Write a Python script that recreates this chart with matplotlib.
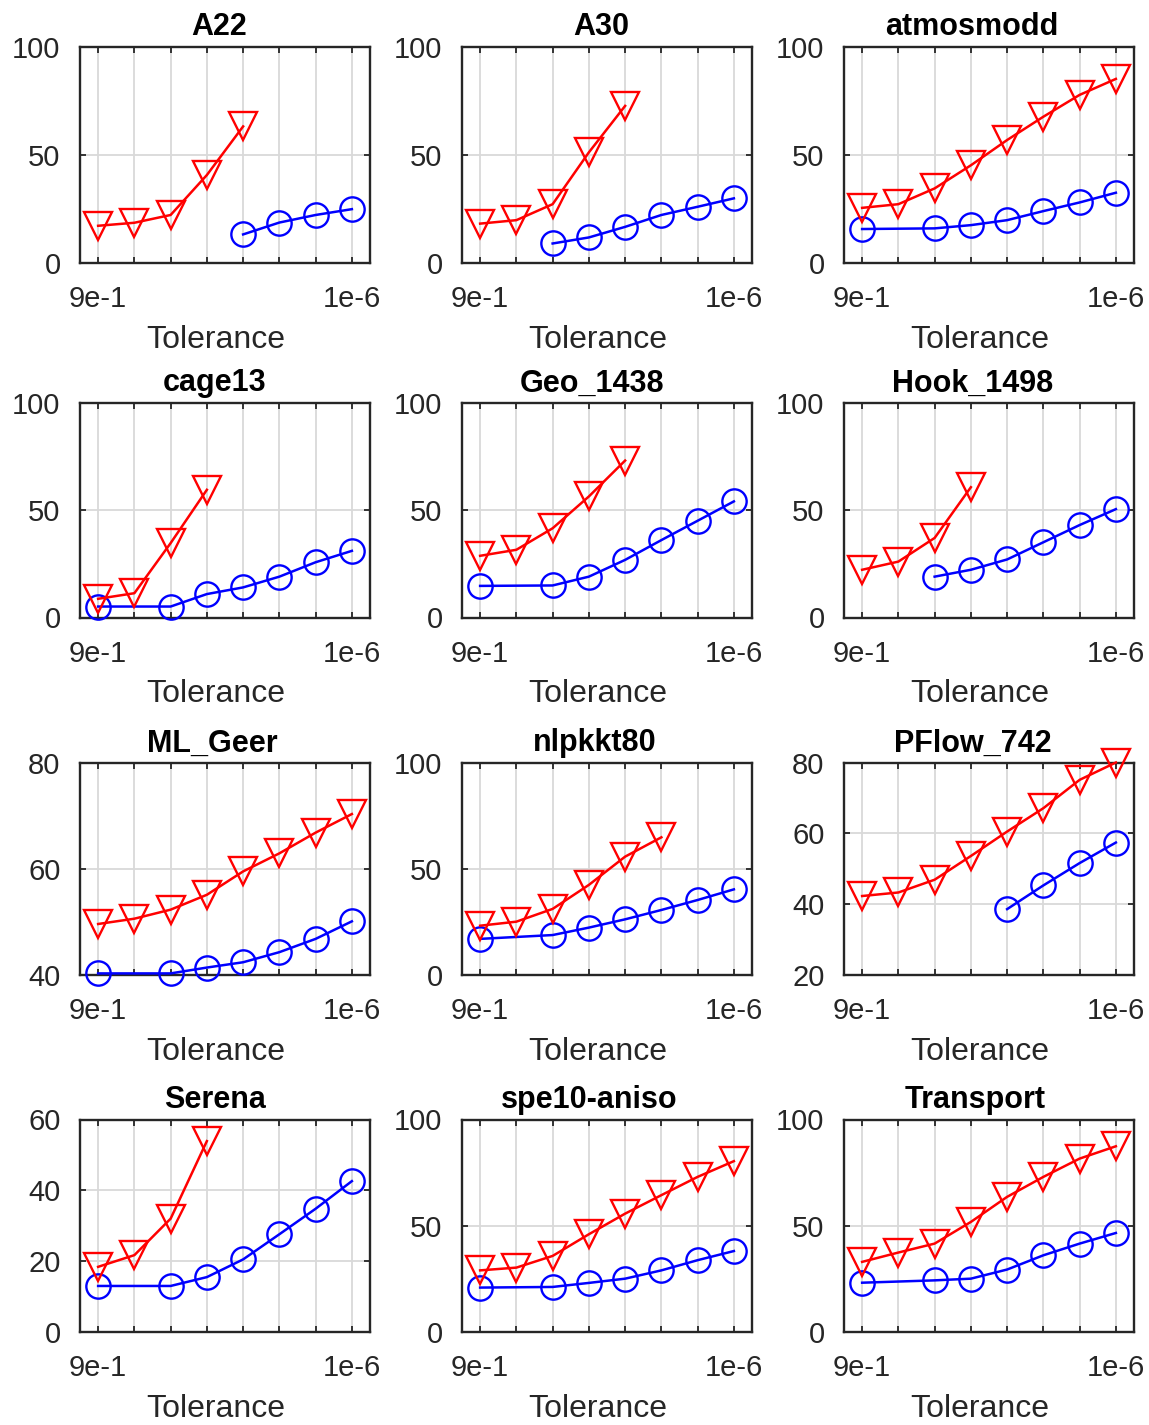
import numpy as np
import matplotlib
matplotlib.use("Agg")
import matplotlib.pyplot as plt
from matplotlib.transforms import ScaledTranslation

plt.rcParams["font.family"] = ["Liberation Sans", "DejaVu Sans"]

titles = ["A22", "A30", "atmosmodd", "cage13", "Geo_1438", "Hook_1498",
          "ML_Geer", "nlpkkt80", "PFlow_742", "Serena", "spe10-aniso", "Transport"]
tol_labels = ["9e-1", "", "", "", "", "", "", "1e-6"]

ylims = [(0, 100), (0, 100), (0, 100), (0, 100), (0, 100), (0, 100),
         (40, 80), (0, 100), (20, 80), (0, 60), (0, 100), (0, 100)]
yticks = [[0, 50, 100]] * 6 + [[40, 60, 80], [0, 50, 100], [20, 40, 60, 80],
                               [0, 20, 40, 60], [0, 50, 100], [0, 50, 100]]

nan = np.nan
# red triangles (one value per tolerance, nan = not reached)
a22_red = [17, 18.4, 22, 40.5, 63, nan, nan, nan]
a30_red = [18, 19.6, 27, 51, 72.5, nan, nan, nan]
atmosmodd_red = [25.3, 27, 34.3, 45, 56.7, 67.5, 77.6, 85]
cage13_red = [8.7, 11.3, 34.6, 59.4, nan, nan, nan, nan]
geo_red = [28.7, 31.5, 41.5, 56.3, 73, nan, nan, nan]
hook_red = [22.2, 26, 37, 60.6, nan, nan, nan, nan]
mlgeer_red = [49.6, 50.6, 52.3, 55.1, 59.5, 62.9, 66.8, 70.3]
nlpkkt_red = [23.2, 25.1, 31.1, 42.4, 55.7, 64.8, nan, nan]
pflow_red = [42.3, 43.3, 46.9, 53.6, 60.5, 67.1, 75.1, 80]
serena_red = [18.4, 21.7, 32, 53.9, nan, nan, nan, nan]
spe10_red = [29, 30.3, 35.8, 46, 55.7, 64.4, 73, 80.4]
transport_red = [33, 37.4, 41.6, 51.8, 63.6, 73, 81.6, 87.4]

# blue circles
a22_blue = [nan, nan, nan, nan, 13, 18.5, 22, 24.7]
a30_blue = [nan, nan, 8.8, 11.6, 16.5, 22, 25.8, 29.7]
atmosmodd_blue = [15.5, nan, 15.8, 17.3, 19.6, 23.8, 27.8, 32.3]
cage13_blue = [5.1, nan, 5.1, 10.9, 14, 19, 25.7, 31]
geo_blue = [14.7, nan, 14.9, 19, 26.8, 36, 45, 54]
hook_blue = [nan, nan, 19, 22.2, 27, 35, 43, 50.4]
mlgeer_blue = [40.3, nan, 40.3, 41.4, 42.4, 44.3, 46.8, 50.1]
nlpkkt_blue = [17, nan, 18.8, 22.3, 26.2, 30.6, 35.3, 40.3]
pflow_blue = [nan, nan, nan, nan, 38.6, 45.3, 51.6, 57.4]
serena_blue = [13, nan, 13, 15.5, 20.5, 27.6, 34.8, 42.6]
spe10_blue = [20.9, nan, 21.2, 23.1, 25.1, 29, 33.8, 38.1]
transport_blue = [23.2, nan, 24.3, 25.1, 29.4, 36.1, 41.6, 46.6]

red_series = [a22_red, a30_red, atmosmodd_red, cage13_red, geo_red, hook_red,
              mlgeer_red, nlpkkt_red, pflow_red, serena_red, spe10_red, transport_red]
blue_series = [a22_blue, a30_blue, atmosmodd_blue, cage13_blue, geo_blue, hook_blue,
               mlgeer_blue, nlpkkt_blue, pflow_blue, serena_blue, spe10_blue, transport_blue]

W, H = 1149, 1425
fig = plt.figure(figsize=(W / 100, H / 100), dpi=100)

col_left = [80, 462, 844]
row_top = [46.5, 402.5, 762.5, 1119.5]
row_h = [216, 215, 212.5, 212.5]
ax_w = 290

dark = "#262626"
x = np.arange(1, len(tol_labels) + 1)

title_texts = []
for i, title in enumerate(titles):
    r, c = divmod(i, 3)
    left = col_left[c] / W
    bottom = 1 - (row_top[r] + row_h[r]) / H
    ax = fig.add_axes([left, bottom, ax_w / W, row_h[r] / H])

    for vals, color, marker, ms in [(blue_series[i], "blue", "o", 17.5),
                                    (red_series[i], "red", "v", 20)]:
        v = np.array(vals, dtype=float)
        ok = ~np.isnan(v)
        ax.plot(x[ok], v[ok], color=color, lw=1.8, marker=marker, ms=ms,
                mfc="none", mec=color, mew=1.7, zorder=3, clip_on=False)

    ax.set_xlim(0.5, 8.5)
    ax.set_ylim(*ylims[i])
    ax.set_xticks(x)
    ax.set_xticklabels(tol_labels)
    ax.set_yticks(yticks[i])
    ax.grid(True, color="#d9d9d9", lw=1.3, zorder=0)
    ax.set_axisbelow(True)
    for s in ax.spines.values():
        s.set_color(dark)
        s.set_linewidth(1.7)
    ax.tick_params(direction="in", length=4, width=1.3, color=dark,
                   top=True, right=True, labelsize=21, labelcolor=dark)
    ax.tick_params(axis="x", pad=16)
    ax.tick_params(axis="y", pad=14)
    ax.set_xlabel("Tolerance", fontsize=23, color=dark)
    ax.xaxis.set_label_coords(0.5 - 9 / ax_w, -77 / row_h[r])
    ax.xaxis.label.set_va("center")
    t = ax.set_title(title, fontsize=22, fontweight="bold", pad=8)
    title_texts.append(t)

# titles sit a bit left of centre in the original
fig.canvas.draw()
for t in title_texts:
    w = t.get_window_extent().width
    t.set_transform(t.get_transform() + ScaledTranslation(-0.1 * w / 100, 0, fig.dpi_scale_trans))

fig.savefig("out.png", dpi=100)
